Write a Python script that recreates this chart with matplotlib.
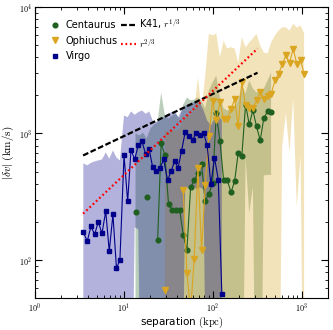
import numpy as np
import matplotlib
matplotlib.use("Agg")
import matplotlib.pyplot as plt
from matplotlib.lines import Line2D
from matplotlib.ticker import FuncFormatter, NullFormatter, LogLocator

plt.rcParams['mathtext.fontset'] = 'cm'
plt.rcParams['font.family'] = ['DejaVu Sans']

nan = np.nan

# Virgo
virgo_sep = [3.52, 3.90, 4.29, 4.72, 5.18, 5.71, 6.29, 6.89, 7.58, 8.30, 9.08, 10.1, 11.1,
             12.1, 13.3, 14.6, 16.1, 17.7, 19.4, 21.2, 23.2, 25.6, 28.1, 31.2, 34.3, 37.4,
             41.0, 44.8, 49.2, 54.2, 59.6, 65.4, 72.0, 79.2, 86.9, 95.7, 105, 116, 127]
virgo_dv = [165, 141, 184, 159, 200, 162, 244, 117, 229, 86, 100, 670, 290,
            743, 623, 809, 865, 682, 748, 539, 501, 529, 623, 427, 507, 604,
            536, 729, 1024, 952, 881, 1013, 977, 1005, 804, 395, 643, 430, 54]
virgo_hi = [580, 559, 586, 601, 612, 623, 708, 631, 735, 646, 612, 1388, 1345,
            1493, 1405, 1473, 1520, 1431, 1493, 1267, 1228, 1306, 1345, 1431, 1473, 1493,
            1345, 1520, 1664, 1717, 1758, 1767, 1767, 1520, 1267, 1157, 1314, 1390, 1267]
virgo_lo = [1, 1, 1, 1, 1, 1, 1, 1, 1, 1, 1, 1, 1,
            1, 181, 175, 1, 1, 1, 1, 1, 1, 1, 1, 1, 1,
            1, 1, 380, 370, 390, 365, 375, 360, 1, 1, 1, 1, 1]

# Centaurus
cen_sep = [13.6, 15.0, 16.5, 18.1, 20.0, 22.0, 24.1, 26.4, 29.1, 32.0, 35.2, 38.7, 42.6,
           46.8, 51.4, 56.6, 62.1, 68.4, 75.2, 82.6, 90.8, 100, 110, 121, 133, 146,
           161, 177, 194, 213, 235, 258, 284, 312, 343, 377, 415, 455]
cen_dv = [239, nan, nan, 313, nan, nan, 143, 838, 670, 275, 248, 246, 249,
          158, 119, 374, 425, 483, 569, 292, 334, 403, 1439, 869, 430, 430,
          342, 420, 701, 658, 1694, 1178, 1520, 1136, 881, 1326, 1493, 1479]
cen_hi = [1000, 964, 1018, 913, 1095, 1178, 1222, 2109, 1388, 1314, 1388, 1439, 1314,
          1694, 1927, 1824, 1857, 1927, 1824, 1578, 2188, 2529, 2872, 1927, 1578, 1520,
          1578, 1664, 1824, 2394, 2070, 2624, 2268, 2109, 2188, 2268, 2624, 3035]
cen_lo = [1, 1, 1, 1, 1, 1, 1, 1, 1, 1, 1, 1, 1,
          1, 1, 1, 1, 1, 1, 1, 1, 1, 1, 1, 1, 1,
          1, 1, 1, 1, 650, 233, 377, 1, 1, 466, 470, 470]

# Ophiuchus
oph_sep = [29.1, 32.0, 35.2, 38.7, 42.6, 46.8, 51.4, 56.6, 62.1, 68.4, 75.2, 82.6, 90.8,
           100, 110, 121, 133, 146, 161, 177, 194, 213, 235, 258, 284, 312,
           343, 377, 415, 455, 501, 552, 606, 666, 733, 805, 885, 975, 1070]
oph_dv = [58, nan, nan, nan, nan, 354, 79, 40, 101, 529, 119, 388, 947,
          1790, 1267, 1767, 1290, 1290, 1567, 1857, 1136, 2547, 1664, 1595, 1595, 1824,
          2120, 1857, 1995, 2033, 2624, 2963, 3510, 4137, 3623, 4677, 3557, 3777, 2963]
oph_hi = [1055, 1030, 1080, 1050, 1100, 1270, 1388, 1400, 1520, 2775, 1520, 2870, 6140,
          5955, 6180, 3990, 5430, 4700, 4810, 4700, 3640, 5770, 4810, 5240, 5640, 6140,
          4960, 4365, 4290, 5240, 5955, 6515, 6920, 6890, 6515, 7360, 6890, 7145, 6180]
oph_lo = [1, 1, 1, 1, 1, 1, 1, 1, 1, 1, 1, 1, 1,
          1, 1, 1, 1, 1, 1, 1, 1, 1, 1, 1, 1, 1,
          1, 1, 1, 1, 1, 1, 780, 1440, 708, 1890, 260, 670, 1]

# reference power laws (end points)
k41_sep = [3.5, 320]
k41_dv = [670, 3020]
r23_sep = [3.5, 320]
r23_dv = [232, 4690]

c_cen = '#1f5f1f'
c_oph = '#daa520'
c_vir = '#00008b'


def main():
    fig = plt.figure(figsize=(3.33, 3.30), dpi=100)
    ax = fig.add_axes([0.1042, 0.097, 0.8817, 0.8818])

    ax.fill_between(cen_sep, cen_lo, cen_hi, color=c_cen, alpha=0.3, lw=0)
    ax.fill_between(oph_sep, oph_lo, oph_hi, color=c_oph, alpha=0.3, lw=0)
    ax.fill_between(virgo_sep, virgo_lo, virgo_hi, color=c_vir, alpha=0.3, lw=0)

    ax.plot(cen_sep, cen_dv, '-o', color=c_cen, ms=3.4, lw=0.8)
    ax.plot(oph_sep, oph_dv, '-v', color=c_oph, ms=3.8, lw=0.8)
    ax.plot(virgo_sep, virgo_dv, '-s', color=c_vir, ms=3.2, lw=0.8)

    ax.plot(k41_sep, k41_dv, color='black', lw=1.6, dashes=(2.6, 1.1))
    ax.plot(r23_sep, r23_dv, color='red', lw=1.6, dashes=(0.8, 1.2))

    ax.set_xscale('log')
    ax.set_yscale('log')
    ax.set_xlim(1, 2000)
    ax.set_ylim(50, 1e4)

    fmt = FuncFormatter(lambda v, pos: r'$10^{%d}$' % round(np.log10(v)))
    ax.xaxis.set_major_formatter(fmt)
    ax.yaxis.set_major_formatter(fmt)
    ax.xaxis.set_minor_formatter(NullFormatter())
    ax.yaxis.set_minor_formatter(NullFormatter())
    ax.xaxis.set_minor_locator(LogLocator(base=10, subs=np.arange(2, 10)))
    ax.yaxis.set_minor_locator(LogLocator(base=10, subs=np.arange(2, 10)))
    ax.tick_params(which='both', direction='in', top=True, right=True, labelsize=5.8, pad=2)
    ax.tick_params(which='major', length=5, width=0.8)
    ax.tick_params(which='minor', length=2.5, width=0.6)
    for s in ax.spines.values():
        s.set_linewidth(0.8)

    ax.set_xlabel(r'separation $(\mathrm{kpc})$', fontsize=7.5, labelpad=1)
    ax.set_ylabel(r'$|\delta v|\ (\mathrm{km/s})$', fontsize=8, labelpad=2)

    handles = [
        Line2D([], [], ls='none', marker='o', color=c_cen, ms=3.4),
        Line2D([], [], ls='none', marker='v', color=c_oph, ms=3.8),
        Line2D([], [], ls='none', marker='s', color=c_vir, ms=3.2),
        Line2D([], [], color='black', lw=1.6, dashes=(2.6, 1.1)),
        Line2D([], [], color='red', lw=1.6, dashes=(0.8, 1.2)),
    ]
    labels = ['Centaurus', 'Ophiuchus', 'Virgo', r'K41, $r^{1/3}$', r'$r^{2/3}$']
    ax.legend(handles, labels, loc='upper left', bbox_to_anchor=(0.012, 0.997), ncol=2,
              frameon=False, fontsize=7, handlelength=1.5, handletextpad=0.3,
              columnspacing=0.4, labelspacing=0.55, borderaxespad=0.6, numpoints=1)

    fig.savefig('out.png', dpi=100)


if __name__ == "__main__":
    main()
